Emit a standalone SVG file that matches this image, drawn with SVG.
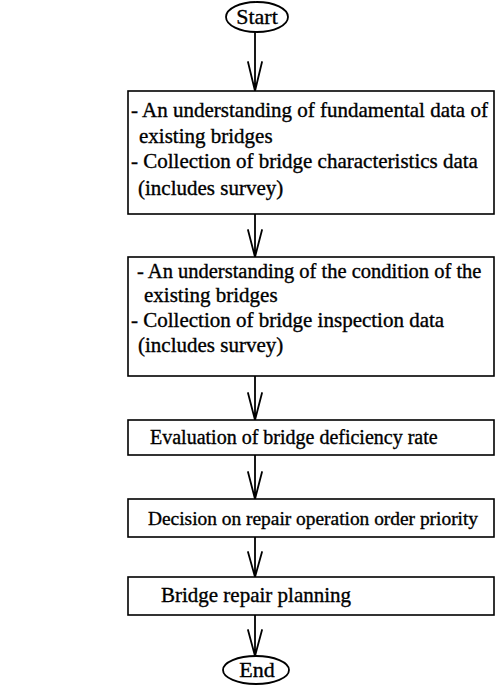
<svg xmlns="http://www.w3.org/2000/svg" width="498" height="690" viewBox="0 0 498 690">
  <style>
    .box { fill: #fff; stroke: #000; stroke-width: 1.6; }
    .term { fill: #fff; stroke: #000; stroke-width: 1.8; }
    .lbl { font-family: "Liberation Serif", "Times New Roman", serif; font-size: 21px; fill: #000; stroke: #000; stroke-width: 0.35; }
    .mid { text-anchor: middle; }
    .conn { fill: none; stroke: #000; stroke-width: 1.8; stroke-linecap: round; }
  </style>
  <rect width="498" height="690" fill="#fff"/>

  <!-- connectors: stem plus converging V head -->
  <g id="connectors">
    <path class="conn" d="M255,32 V91 M248,62 L255,91 M262,62 L255,91"/>
    <path class="conn" d="M255,214 V257 M248,230 L255,257 M262,230 L255,257"/>
    <path class="conn" d="M255,376 V420 M248,393 L255,420 M262,393 L255,420"/>
    <path class="conn" d="M255,455 V499 M248,472 L255,499 M262,472 L255,499"/>
    <path class="conn" d="M255,537 V577 M248,552 L255,577 M262,552 L255,577"/>
    <path class="conn" d="M255,615 V656 M248,630 L255,656 M262,630 L255,656"/>
  </g>

  <g id="start">
    <ellipse class="term" cx="257" cy="17" rx="31" ry="15"/>
    <text class="lbl mid" x="257" y="24" style="font-size:22px">Start</text>
  </g>

  <g id="step-fundamental-data">
    <rect class="box" x="128" y="91" width="366" height="123"/>
    <text class="lbl" x="131" y="117">- An understanding of fundamental data of</text>
    <text class="lbl" x="139" y="143">existing bridges</text>
    <text class="lbl" x="131" y="168">- Collection of bridge characteristics data</text>
    <text class="lbl" x="138" y="195">(includes survey)</text>
  </g>

  <g id="step-condition">
    <rect class="box" x="128" y="257" width="366" height="119"/>
    <text class="lbl" x="137" y="278" style="font-size:20.5px">- An understanding of the condition of the</text>
    <text class="lbl" x="144" y="302">existing bridges</text>
    <text class="lbl" x="131" y="327">- Collection of bridge inspection data</text>
    <text class="lbl" x="138" y="352">(includes survey)</text>
  </g>

  <g id="step-deficiency">
    <rect class="box" x="128" y="420" width="366" height="35"/>
    <text class="lbl" x="150" y="444" style="font-size:20px">Evaluation of bridge deficiency rate</text>
  </g>

  <g id="step-priority">
    <rect class="box" x="128" y="499" width="366" height="38"/>
    <text class="lbl" x="148" y="525" style="font-size:19.4px">Decision on repair operation order priority</text>
  </g>

  <g id="step-planning">
    <rect class="box" x="128" y="577" width="366" height="38"/>
    <text class="lbl mid" x="256" y="602">Bridge repair planning</text>
  </g>

  <g id="end">
    <ellipse class="term" cx="256" cy="670" rx="33" ry="14"/>
    <text class="lbl mid" x="257" y="677" style="font-size:22px">End</text>
  </g>
</svg>
